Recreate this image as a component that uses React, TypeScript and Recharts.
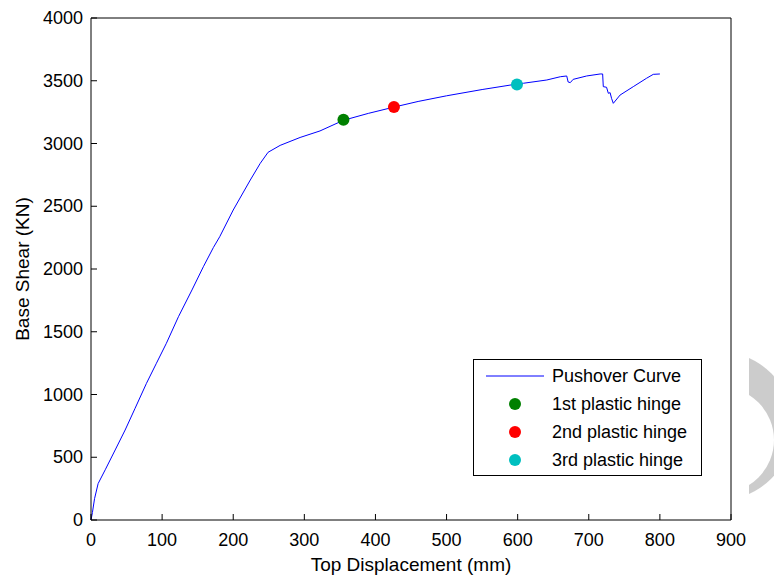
import React from "react";
import { ComposedChart, Line, Scatter, XAxis, YAxis, Legend } from "recharts";

// pushover curve (mm, kN)
const displacement = [
  0, 2, 5, 10, 20, 34, 48, 62, 78, 92, 106, 123, 142, 158, 172, 181, 200, 224, 238, 249, 266, 294, 322,
  355, 390, 426, 460, 500, 550, 599, 608, 641, 660, 669, 671, 674, 678, 697, 716, 719.5, 720.4, 725,
  727.5, 730, 732, 734.5, 744, 762.6, 781, 790.7, 800,
];
const baseShear = [
  0, 60, 170, 290, 400, 558, 717, 890, 1089, 1249, 1408, 1620, 1833, 2018, 2170, 2257, 2470, 2709,
  2842, 2930, 2985, 3048, 3100, 3185, 3240, 3290, 3335, 3380, 3430, 3474, 3480, 3506, 3532, 3538,
  3490, 3485, 3511, 3538, 3554, 3554, 3453, 3448, 3400, 3405, 3360, 3320, 3386, 3453, 3519, 3551, 3554,
];

const hingeNames = ["1st plastic hinge", "2nd plastic hinge", "3rd plastic hinge"];
const hingeDisp = [355, 426, 599];
const hingeShear = [3190, 3290, 3470];
const hingeColors = ["#008000", "#ff0000", "#00bfbf"];

const xTicks = [0, 100, 200, 300, 400, 500, 600, 700, 800, 900];
const yTicks = [0, 500, 1000, 1500, 2000, 2500, 3000, 3500, 4000];

const curve = displacement.map((d, i) => ({ d, v: baseShear[i] }));
const hinges = hingeNames.map((name, i) => ({ name, d: hingeDisp[i], v: hingeShear[i], color: hingeColors[i] }));

const font = "'Liberation Sans', Arial, sans-serif";
const ink = "#000";

const LeftTick = (p: any) => (
  <g>
    <line x1={p.x} x2={p.x + 6} y1={p.y} y2={p.y} stroke={ink} />
    <text x={p.x - 8} y={p.y + 6} textAnchor="end" fontSize={18} fontFamily={font} fill={ink}>
      {p.payload.value}
    </text>
  </g>
);
const RightTick = (p: any) => <line x1={p.x} x2={p.x - 6} y1={p.y} y2={p.y} stroke={ink} />;
const BottomTick = (p: any) => (
  <g>
    <line x1={p.x} x2={p.x} y1={p.y} y2={p.y - 6} stroke={ink} />
    <text x={p.x} y={p.y + 26} textAnchor="middle" fontSize={18} fontFamily={font} fill={ink}>
      {p.payload.value}
    </text>
  </g>
);
const TopTick = (p: any) => <line x1={p.x} x2={p.x} y1={p.y} y2={p.y + 6} stroke={ink} />;

const LegendBox = () => (
  <div style={{ border: "1px solid #000", background: "#fff", width: 229, height: 117, boxSizing: "border-box" }}>
    <svg width={227} height={115} style={{ display: "block" }}>
      <line x1={12} x2={70} y1={16} y2={16} stroke="#0000ff" />
      <text x={78} y={22} fontSize={18} fontFamily={font}>Pushover Curve</text>
      {hinges.map((h, i) => (
        <g key={h.name}>
          <circle cx={41} cy={44 + i * 28} r={6} fill={h.color} />
          <text x={78} y={50 + i * 28} fontSize={18} fontFamily={font}>{h.name}</text>
        </g>
      ))}
    </svg>
  </div>
);

export default function App() {
  return (
    <div style={{ position: "relative", width: 774, height: 571, overflow: "hidden" }}>
      {/* grey watermark crescent at the right edge of the screenshot */}
      <svg width={33} height={571} style={{ position: "absolute", left: 741, top: 0 }}>
        <circle cx={-30.5} cy={418} r={74.5} fill="#cccccc" />
        <circle cx={-28} cy={432} r={53} fill="#fff" />
      </svg>
      <ComposedChart width={774} height={571} margin={{ top: 0, right: 0, bottom: 0, left: 0 }}>
        <XAxis
          xAxisId="b"
          type="number"
          dataKey="d"
          domain={[0, 900]}
          ticks={xTicks}
          height={59}
          tickSize={0}
          tickMargin={0}
          tickLine={false}
          axisLine={{ stroke: ink }}
          tick={<BottomTick />}
          label={{ value: "Top Displacement (mm)", position: "insideBottom", offset: 8, fontSize: 19, fontFamily: font, fill: ink }}
        />
        <XAxis
          xAxisId="t"
          orientation="top"
          type="number"
          dataKey="d"
          domain={[0, 900]}
          ticks={xTicks}
          height={10}
          tickSize={0}
          tickMargin={0}
          tickLine={false}
          axisLine={{ stroke: ink }}
          tick={<TopTick />}
        />
        <YAxis
          yAxisId="l"
          type="number"
          dataKey="v"
          domain={[0, 4000]}
          ticks={yTicks}
          width={83}
          tickSize={0}
          tickMargin={0}
          tickLine={false}
          axisLine={{ stroke: ink }}
          tick={<LeftTick />}
          label={({ viewBox }: any) => (
            <text
              x={viewBox.x + 14}
              y={viewBox.y + viewBox.height / 2}
              transform={`rotate(-90 ${viewBox.x + 14} ${viewBox.y + viewBox.height / 2})`}
              textAnchor="middle"
              dominantBaseline="central"
              fontSize={19}
              fontFamily={font}
              fill={ink}
            >
              Base Shear (KN)
            </text>
          )}
        />
        <YAxis
          yAxisId="r"
          orientation="right"
          type="number"
          dataKey="v"
          domain={[0, 4000]}
          ticks={yTicks}
          width={51}
          tickSize={0}
          tickMargin={0}
          tickLine={false}
          axisLine={{ stroke: ink }}
          tick={<RightTick />}
        />
        <Line
          xAxisId="b"
          yAxisId="l"
          data={curve}
          dataKey="v"
          name="Pushover Curve"
          type="linear"
          stroke="#0000ff"
          strokeWidth={1}
          dot={false}
          isAnimationActive={false}
        />
        {hinges.map((h) => (
          <Scatter
            key={h.name}
            xAxisId="b"
            yAxisId="l"
            name={h.name}
            data={[h]}
            dataKey="v"
            fill={h.color}
            shape={(p: any) => <circle cx={p.cx} cy={p.cy} r={6} fill={h.color} />}
            isAnimationActive={false}
          />
        ))}
        <Legend
          layout="horizontal"
          verticalAlign="middle"
          align="center"
          content={<LegendBox />}
          wrapperStyle={{ position: "absolute", left: 465, top: 351, width: 229, height: 117 }}
        />
      </ComposedChart>
    </div>
  );
}
